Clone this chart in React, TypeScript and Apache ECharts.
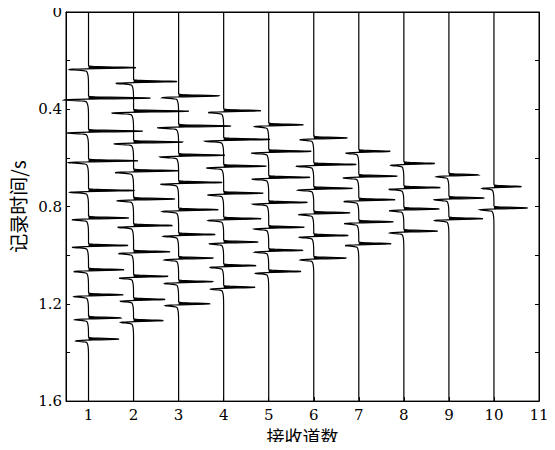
import React, { useEffect, useRef } from "react";
import * as echarts from "echarts";

// Trace numbers (receiver channels)
const TRACES = [1, 2, 3, 4, 5, 6, 7, 8, 9, 10];

// Arrival times (s) of each reflected event, per trace
const EVENT_TIMES: number[][] = [
  [0.229, 0.354, 0.49, 0.612, 0.734, 0.847, 0.96, 1.06, 1.163, 1.258, 1.345],
  [0.286, 0.408, 0.535, 0.653, 0.769, 0.878, 0.986, 1.087, 1.182, 1.269],
  [0.345, 0.469, 0.589, 0.701, 0.813, 0.915, 1.012, 1.109, 1.2],
  [0.406, 0.524, 0.634, 0.745, 0.85, 0.946, 1.043, 1.132],
  [0.464, 0.573, 0.68, 0.783, 0.885, 0.98, 1.067],
  [0.518, 0.627, 0.725, 0.826, 0.919, 1.012],
  [0.573, 0.675, 0.772, 0.863, 0.953],
  [0.623, 0.722, 0.81, 0.901],
  [0.67, 0.765, 0.85],
  [0.718, 0.806],
];

// Peak amplitude of each event, in trace-spacing units
const EVENT_AMPS: number[][] = [
  [1.07, 1.4, 1.22, 1.11, 1.02, 0.91, 0.89, 0.8, 0.78, 0.73, 0.69],
  [0.98, 1.24, 1.11, 1.02, 0.93, 0.87, 0.82, 0.78, 0.71, 0.67],
  [0.91, 1.18, 1.04, 0.98, 0.89, 0.82, 0.78, 0.76, 0.71],
  [0.84, 1.04, 0.96, 0.89, 0.84, 0.78, 0.73, 0.71],
  [0.78, 0.96, 0.93, 0.87, 0.8, 0.76, 0.73],
  [0.76, 0.96, 0.87, 0.82, 0.78, 0.73],
  [0.71, 0.87, 0.82, 0.78, 0.73],
  [0.69, 0.82, 0.8, 0.76],
  [0.67, 0.8, 0.76],
  [0.62, 0.76],
];

const X_TICKS = [1, 2, 3, 4, 5, 6, 7, 8, 9, 10, 11];
const Y_LABELS = [0, 0.4, 0.8, 1.2, 1.6];
const T_MIN = 0;
const T_MAX = 1.6;

// wavelet glyph shape (pixel space): sharp positive peak, sharp negative
// side lobe just after it, and a slowly decaying negative tail
function wavelet(s: number, A: number): number {
  const sp = 0.6;
  const d = 1.8;
  const N = 0.34 * A;
  const c = 1.5 + 0.04 * A;
  const pos = A * Math.exp(-(s * s) / (2 * sp * sp));
  const neg = N * Math.exp(-((s - d) * (s - d)) / (2 * sp * sp));
  let tail: number;
  if (s < d) tail = c * Math.exp(-((s - d) * (s - d)) / (2 * 0.8 * 0.8));
  else tail = c * Math.exp(-(s - d) / 3.2);
  return pos - neg - tail;
}

export default function App() {
  const ref = useRef<HTMLDivElement>(null);

  useEffect(() => {
    if (!ref.current) return;
    const chart = echarts.init(ref.current, null, { renderer: "svg" });

    const renderItem = (params: any, api: any) => {
      const idx = params.dataIndex;
      const k = api.value(0) as number;
      const top = api.coord([k, T_MIN]);
      const bot = api.coord([k, T_MAX]);
      const x0 = top[0];
      const evs = EVENT_TIMES[idx].map((t, i) => ({
        y: api.coord([k, t])[1],
        A: api.size([EVENT_AMPS[idx][i], 0])[0],
      }));
      const line: number[][] = [];
      const fill: number[][] = [];
      const step = 0.2;
      for (let y = top[1]; y <= bot[1] + 1e-6; y += step) {
        let a = 0;
        for (const e of evs) {
          const s = y - e.y;
          if (s > -6 && s < 30) a += wavelet(s, e.A);
        }
        line.push([x0 + a, y]);
        fill.push([x0 + Math.max(a, 0), y]);
      }
      fill.push([x0, bot[1]]);
      fill.push([x0, top[1]]);
      return {
        type: "group",
        children: [
          {
            type: "polygon",
            shape: { points: fill },
            style: { fill: "#000", stroke: "none" },
          },
          {
            type: "polyline",
            shape: { points: line },
            style: { stroke: "#000", lineWidth: 1.2, fill: "none" },
          },
        ],
      };
    };

    const labelFont = {
      fontFamily: "DejaVu Serif",
      fontSize: 15,
      color: "#000",
    };

    chart.setOption({
      animation: false,
      backgroundColor: "#fff",
      grid: {
        left: 66,
        right: 16,
        top: 12,
        bottom: 45,
        containLabel: false,
        show: true,
        borderColor: "#000",
        borderWidth: 1,
      },
      xAxis: [
        {
          type: "value",
          min: 0.5,
          max: 11,
          position: "bottom",
          name: "接收道数",
          nameLocation: "middle",
          nameGap: 24,
          nameTextStyle: {
            fontFamily: "Noto Sans CJK SC",
            fontSize: 18,
            color: "#000",
          },
          axisLine: { show: true, onZero: false, lineStyle: { color: "#000", width: 1 } },
          axisTick: { show: true, inside: true, length: 4, customValues: X_TICKS, lineStyle: { color: "#000" } },
          axisLabel: { ...labelFont, margin: 6, customValues: X_TICKS, formatter: (v: number) => String(v) },
          splitLine: { show: false },
        },
        {
          type: "value",
          min: 0.5,
          max: 11,
          position: "top",
          axisLine: { show: true, onZero: false, lineStyle: { color: "#000", width: 1 } },
          axisTick: { show: false },
          axisLabel: { show: false },
          splitLine: { show: false },
        },
      ],
      yAxis: [
        {
          type: "value",
          inverse: true,
          min: T_MIN,
          max: T_MAX,
          interval: 0.2,
          position: "left",
          name: "记录时间/s",
          nameLocation: "middle",
          nameGap: 31,
          nameTextStyle: {
            fontFamily: "Noto Sans CJK SC",
            fontSize: 19,
            color: "#000",
          },
          axisLine: { show: true, onZero: false, lineStyle: { color: "#000", width: 1 } },
          axisTick: { show: true, inside: true, length: 4, lineStyle: { color: "#000" } },
          axisLabel: {
            ...labelFont,
            margin: 4,
            customValues: Y_LABELS,
            formatter: (v: number) => (v === 0 ? "0" : v.toFixed(1)),
          },
          splitLine: { show: false },
        },
        {
          type: "value",
          inverse: true,
          min: T_MIN,
          max: T_MAX,
          interval: 0.2,
          position: "right",
          axisLine: { show: true, onZero: false, lineStyle: { color: "#000", width: 1 } },
          axisTick: { show: true, inside: true, length: 4, lineStyle: { color: "#000" } },
          axisLabel: { show: false },
          splitLine: { show: false },
        },
      ],
      series: [
        {
          type: "custom",
          coordinateSystem: "cartesian2d",
          xAxisIndex: 0,
          yAxisIndex: 0,
          silent: true,
          clip: false,
          data: TRACES.map((k) => [k, T_MIN]),
          renderItem,
        },
      ],
    });

    return () => chart.dispose();
  }, []);

  return <div ref={ref} style={{ width: 555, height: 450, margin: -8 }} />;
}
